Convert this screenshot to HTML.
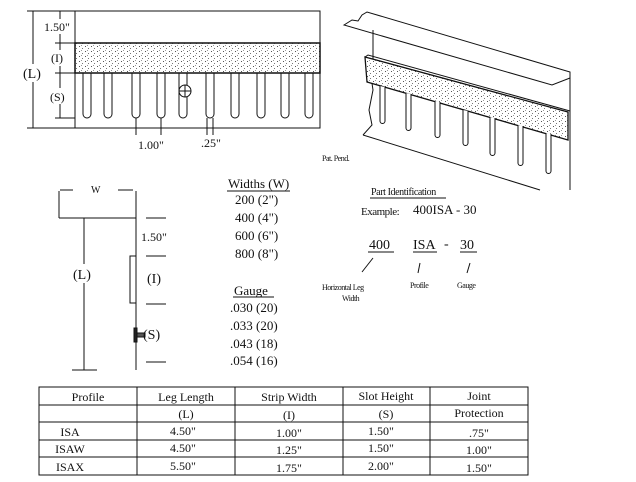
<!DOCTYPE html>
<html><head><style>
html,body{margin:0;padding:0;background:#fff}
svg{display:block}
text{font-family:"Liberation Serif",serif;fill:#111}
</style></head><body>
<svg width="636" height="482" viewBox="0 0 636 482" xmlns="http://www.w3.org/2000/svg">
<defs>
<pattern id="dots" width="6" height="5" patternUnits="userSpaceOnUse">
<rect width="6" height="5" fill="#fff"/>
<rect x="1" y="1" width="1" height="1" fill="#555"/>
<rect x="4" y="3" width="1" height="1" fill="#777"/>
<rect x="3" y="0" width="1" height="1" fill="#999"/>
</pattern>
</defs>
<g stroke="#111" stroke-width="1" fill="none">
<rect x="75" y="11" width="245" height="117"/>
<rect x="75" y="43" width="245" height="30" fill="url(#dots)" stroke-width="1.5"/>
<line x1="33" y1="11" x2="33" y2="128"/>
<line x1="27" y1="11" x2="75" y2="11"/>
<line x1="27" y1="128" x2="75" y2="128"/>
<line x1="60" y1="11" x2="60" y2="118"/>
<line x1="55" y1="43" x2="75" y2="43"/>
<line x1="55" y1="73" x2="75" y2="73"/>
<line x1="55" y1="118" x2="75" y2="118"/>
<g>
<path d="M83 73 V114 a4 4 0 0 0 8 0 V73"/>
<path d="M104 73 V114 a4 4 0 0 0 8 0 V73"/>
<path d="M132 73 V114 a4 4 0 0 0 8 0 V73"/>
<path d="M157 73 V114 a4 4 0 0 0 8 0 V73"/>
<path d="M179 73 V114 a4 4 0 0 0 8 0 V73"/>
<path d="M206 73 V114 a4 4 0 0 0 8 0 V73"/>
<path d="M231 73 V114 a4 4 0 0 0 8 0 V73"/>
<path d="M257 73 V114 a4 4 0 0 0 8 0 V73"/>
<path d="M281 73 V114 a4 4 0 0 0 8 0 V73"/>
<path d="M305 73 V114 a4 4 0 0 0 8 0 V73"/>
</g>
<circle cx="185" cy="91" r="6" fill="#fff"/>
<line x1="179" y1="91" x2="191" y2="91"/>
<line x1="185" y1="85" x2="185" y2="97"/>
<line x1="136" y1="118" x2="136" y2="135"/>
<line x1="161" y1="118" x2="161" y2="135"/>
<line x1="207" y1="118" x2="207" y2="135"/>
<line x1="213" y1="118" x2="213" y2="135"/>
<path d="M344 25 L352 20 L358 21 L362 15 L367 12 L570 72 L570 78 L552 85 Z"/>
<line x1="570" y1="72" x2="570" y2="190"/>
<path d="M373 30 L373 60 L370 70 L373 90 L369 110 L372 125 L363 135"/>
<line x1="363" y1="135" x2="540" y2="190"/>
<path d="M365 57 L568 112 L568 140 L367 82 Z" fill="url(#dots)" stroke-width="1.3"/>
<path d="M365 57 L368 55 L570 111"/>
<g fill="#fff">
<path d="M380 86 V121 a2.5 2.5 0 0 0 5 0 V87"/>
<path d="M406 93 V128 a2.5 2.5 0 0 0 5 0 V94"/>
<path d="M435 101 V135 a2.5 2.5 0 0 0 5 0 V102"/>
<path d="M463 110 V143 a2.5 2.5 0 0 0 5 0 V111"/>
<path d="M490 117 V153 a2.5 2.5 0 0 0 5 0 V118"/>
<path d="M518 125 V163 a2.5 2.5 0 0 0 5 0 V126"/>
<path d="M546 133 V171 a2.5 2.5 0 0 0 5 0 V134"/>
</g>
<line x1="59" y1="218" x2="136" y2="218"/>
<line x1="136" y1="191" x2="136" y2="370"/>
<line x1="59" y1="191" x2="59" y2="218"/>
<line x1="84" y1="218" x2="84" y2="370"/>
<line x1="72" y1="370" x2="97" y2="370"/>
<line x1="60" y1="190" x2="73" y2="190"/>
<line x1="118" y1="190" x2="133" y2="190"/>
<line x1="146" y1="218" x2="166" y2="218"/>
<line x1="146" y1="256" x2="166" y2="256"/>
<line x1="146" y1="304" x2="166" y2="304"/>
<line x1="146" y1="362" x2="166" y2="362"/>
<rect x="130" y="256" width="6" height="47" fill="#fff"/>
<rect x="134" y="328" width="3" height="14" fill="#222"/>
<rect x="137" y="333" width="8" height="4" fill="#555"/>
<line x1="370" y1="198" x2="446" y2="198"/>
<line x1="368" y1="252" x2="394" y2="252"/>
<line x1="413" y1="252" x2="437" y2="252"/>
<line x1="460" y1="252" x2="477" y2="252"/>
<line x1="373" y1="258" x2="362" y2="272"/>
<line x1="420" y1="263" x2="418" y2="273"/>
<line x1="470" y1="263" x2="467" y2="273"/>
<line x1="227" y1="191" x2="290" y2="191"/>
<line x1="233" y1="297" x2="274" y2="297"/>
<rect x="39" y="387" width="489" height="88"/>
<line x1="39" y1="405" x2="528" y2="405"/>
<line x1="39" y1="422" x2="528" y2="422"/>
<line x1="39" y1="440" x2="528" y2="440"/>
<line x1="39" y1="457" x2="528" y2="457"/>
<line x1="137" y1="387" x2="137" y2="475"/>
<line x1="235" y1="387" x2="235" y2="475"/>
<line x1="343" y1="387" x2="343" y2="475"/>
<line x1="430" y1="387" x2="430" y2="475"/>
</g>
<!-- label backgrounds to break dimension lines -->
<g fill="#fff">
<rect x="43" y="19" width="30" height="15"/>
<rect x="50" y="50" width="20" height="16"/>
<rect x="22" y="64" width="22" height="18"/>
<rect x="49" y="88" width="22" height="16"/>
<rect x="72" y="264" width="24" height="19"/>
</g>
<g font-size="12">
<text x="44" y="31">1.50"</text>
<text x="51" y="62">(I)</text>
<text x="23" y="78" font-size="14">(L)</text>
<text x="50" y="101">(S)</text>
<text x="138" y="149">1.00"</text>
<text x="201" y="147">.25"</text>
</g>
<text x="322" y="161" font-size="8" letter-spacing="-0.5">Pat. Pend.</text>
<text x="91" y="193" font-size="10">W</text>
<text x="141" y="241" font-size="12">1.50"</text>
<text x="147" y="283" font-size="14">(I)</text>
<text x="143" y="339" font-size="14">(S)</text>
<text x="73" y="279" font-size="14">(L)</text>
<g font-size="13">
<text x="228" y="188">Widths (W)</text>
<text x="235" y="204">200  (2")</text>
<text x="235" y="222">400  (4")</text>
<text x="235" y="240">600  (6")</text>
<text x="235" y="258">800  (8")</text>
<text x="234" y="295">Gauge</text>
<text x="230" y="312">.030 (20)</text>
<text x="230" y="330">.033 (20)</text>
<text x="230" y="348">.043 (18)</text>
<text x="230" y="365">.054 (16)</text>
</g>
<text x="371" y="195" font-size="10" letter-spacing="-0.4">Part Identification</text>
<text x="361" y="215" font-size="11" letter-spacing="-0.5">Example:</text>
<text x="413" y="214" font-size="13">400ISA - 30</text>
<text x="369" y="249" font-size="14">400</text>
<text x="413" y="249" font-size="14">ISA</text>
<text x="444" y="248" font-size="14">-</text>
<text x="460" y="249" font-size="14">30</text>
<g font-size="8" letter-spacing="-0.5">
<text x="322" y="290">Horizontal Leg</text>
<text x="342" y="301">Width</text>
<text x="410" y="288">Profile</text>
<text x="457" y="288">Gauge</text>
</g>
<g font-size="12" text-anchor="middle">
<text x="88" y="401">Profile</text>
<text x="186" y="401">Leg Length</text>
<text x="289" y="401">Strip Width</text>
<text x="386" y="400">Slot Height</text>
<text x="479" y="400">Joint</text>
<text x="186" y="418">(L)</text>
<text x="289" y="419">(I)</text>
<text x="386" y="418">(S)</text>
<text x="479" y="417">Protection</text>
<text x="70" y="436">ISA</text>
<text x="183" y="435">4.50"</text>
<text x="289" y="437">1.00"</text>
<text x="381" y="435">1.50"</text>
<text x="479" y="437">.75"</text>
<text x="70" y="453">ISAW</text>
<text x="183" y="452">4.50"</text>
<text x="289" y="454">1.25"</text>
<text x="381" y="452">1.50"</text>
<text x="479" y="454">1.00"</text>
<text x="70" y="471">ISAX</text>
<text x="183" y="470">5.50"</text>
<text x="289" y="472">1.75"</text>
<text x="381" y="470">2.00"</text>
<text x="479" y="472">1.50"</text>
</g>
</svg>
</body></html>
